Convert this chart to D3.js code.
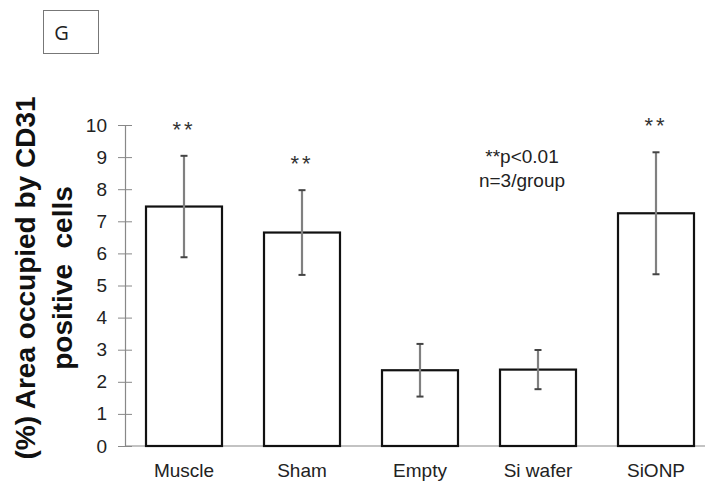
<!DOCTYPE html>
<html>
<head>
<meta charset="utf-8">
<script src="https://cdn.jsdelivr.net/npm/d3@7"></script>
<style>
  html, body { margin: 0; padding: 0; background: #fff; }
  svg { display: block; }
  text { font-family: "Liberation Sans", Arial, sans-serif; fill: #222; }
</style>
</head>
<body>
<svg id="chart" width="705" height="482"></svg>
<script>
// CD31-positive area per group (mean ± SD)
const categories = ["Muscle", "Sham", "Empty", "Si wafer", "SiONP"];
const means = [7.46, 6.65, 2.36, 2.38, 7.25];
const sds = [1.58, 1.32, 0.82, 0.61, 1.90];
const significance = ["**", "**", "", "", "**"];
const yTicks = [0, 1, 2, 3, 4, 5, 6, 7, 8, 9, 10];
const noteLines = ["**p<0.01", "n=3/group"];
const panelLabel = "G";
const yTitleLines = ["(%) Area occupied by CD31", "positive  cells"];

const svg = d3.select("#chart");

const x = d3.scaleBand()
  .domain(categories)
  .range([125, 715])
  .paddingInner(0.356)
  .paddingOuter(0.178);

const y = d3.scaleLinear().domain([0, 10]).range([446, 125]);

// panel label box
svg.append("rect")
  .attr("x", 43.5).attr("y", 10.5)
  .attr("width", 55).attr("height", 43)
  .attr("fill", "none").attr("stroke", "#777").attr("stroke-width", 1);
svg.append("text")
  .attr("x", 61.5).attr("y", 40)
  .attr("text-anchor", "middle")
  .style("font-family", "'Open Sans', 'Noto Sans', sans-serif")
  .style("font-size", "20px")
  .text(panelLabel);

// y axis title (two rotated lines)
const titleG = svg.append("g").attr("transform", "translate(0,278) rotate(-90)");
titleG.selectAll("text")
  .data(yTitleLines)
  .join("text")
  .attr("x", 0)
  .attr("y", (d, i) => 35 + i * 37)
  .attr("text-anchor", "middle")
  .style("white-space", "pre")
  .style("font-size", "28px")
  .style("font-weight", "bold")
  .style("fill", "#111")
  .text(d => d);

// y axis
const yAxis = svg.append("g")
  .attr("transform", "translate(125,0)")
  .call(d3.axisLeft(y).tickValues(yTicks).tickSizeInner(7).tickSizeOuter(0).tickPadding(11));
yAxis.select(".domain").attr("stroke", "#888").attr("stroke-width", 1.2);
yAxis.selectAll(".tick line").attr("stroke", "#888").attr("x1", 7).attr("x2", -7);
yAxis.selectAll(".tick text")
  .style("font-size", "19px")
  .style("font-family", "'Liberation Sans', Arial, sans-serif")
  .attr("fill", "#222");

// x axis baseline
svg.append("line")
  .attr("x1", 125).attr("x2", 705)
  .attr("y1", y(0)).attr("y2", y(0))
  .attr("stroke", "#888").attr("stroke-width", 1.2);

// bars
svg.append("g").selectAll("rect")
  .data(categories)
  .join("rect")
  .attr("x", d => x(d))
  .attr("y", (d, i) => y(means[i]))
  .attr("width", x.bandwidth())
  .attr("height", (d, i) => y(0) - y(means[i]))
  .attr("fill", "#fff")
  .attr("stroke", "#111")
  .attr("stroke-width", 2.2);

// error bars
const eb = svg.append("g").selectAll("g")
  .data(categories)
  .join("g")
  .attr("transform", d => `translate(${x(d) + x.bandwidth() / 2},0)`);
eb.append("line")
  .attr("y1", (d, i) => y(means[i] + sds[i]))
  .attr("y2", (d, i) => y(means[i] - sds[i]))
  .attr("stroke", "#808080").attr("stroke-width", 2.2);
eb.append("line")
  .attr("x1", -3.5).attr("x2", 3.5)
  .attr("y1", (d, i) => y(means[i] + sds[i]))
  .attr("y2", (d, i) => y(means[i] + sds[i]))
  .attr("stroke", "#444").attr("stroke-width", 2);
eb.append("line")
  .attr("x1", -3.5).attr("x2", 3.5)
  .attr("y1", (d, i) => y(means[i] - sds[i]))
  .attr("y2", (d, i) => y(means[i] - sds[i]))
  .attr("stroke", "#444").attr("stroke-width", 2);

// significance stars
eb.append("text")
  .attr("y", (d, i) => y(means[i] + sds[i]) - 19)
  .attr("text-anchor", "middle")
  .style("font-size", "22px")
  .style("letter-spacing", "3px")
  .style("fill", "#333")
  .text((d, i) => significance[i]);

// category labels
svg.append("g").selectAll("text")
  .data(categories)
  .join("text")
  .attr("x", d => x(d) + x.bandwidth() / 2)
  .attr("y", 477)
  .attr("text-anchor", "middle")
  .style("font-size", "19px")
  .text(d => d);

// statistics note
svg.append("g").selectAll("text")
  .data(noteLines)
  .join("text")
  .attr("x", 522)
  .attr("y", (d, i) => 163 + i * 24)
  .attr("text-anchor", "middle")
  .style("font-size", "19px")
  .text(d => d);
</script>
</body>
</html>
